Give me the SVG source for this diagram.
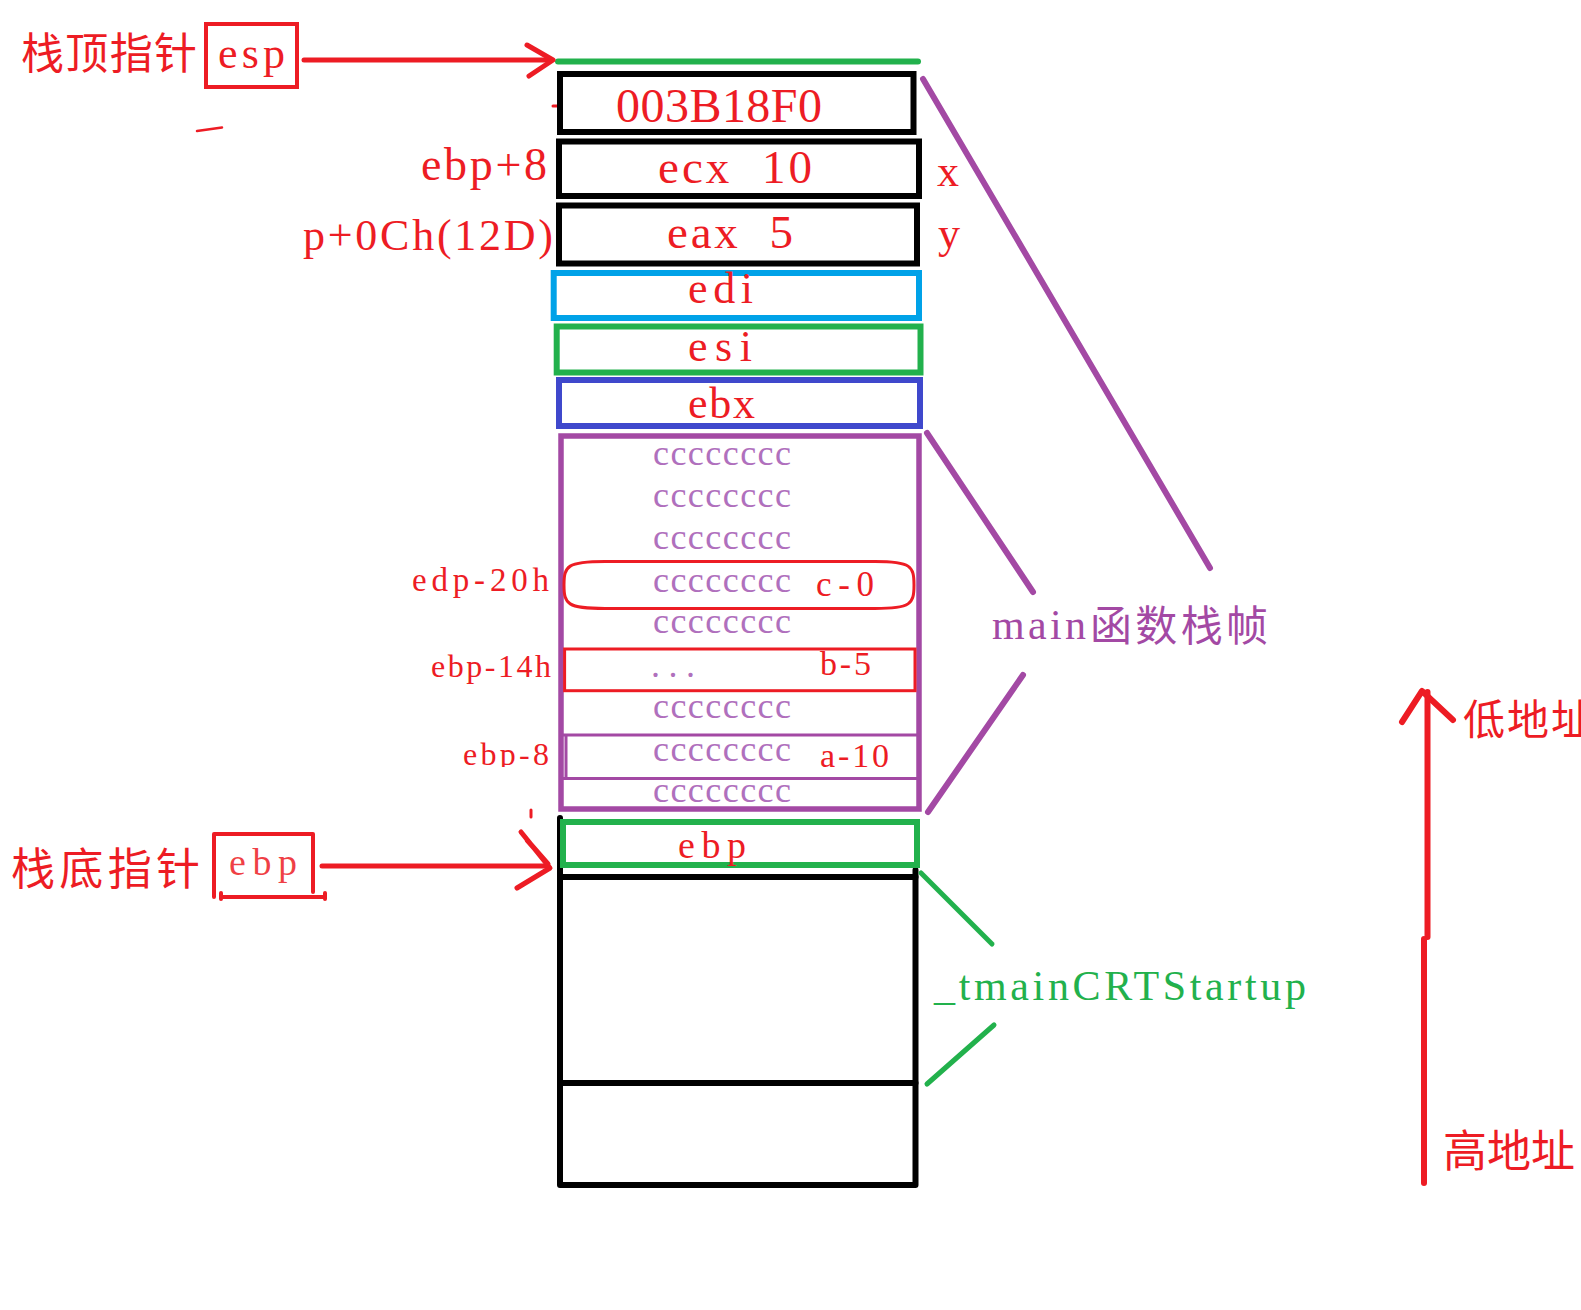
<svg xmlns="http://www.w3.org/2000/svg" width="1581" height="1310" viewBox="0 0 1581 1310">
<defs>
<style>
.r{fill:#ed1c24}
.t{font-family:"Liberation Serif","Noto Sans CJK SC",serif}
.cjk{font-family:"Noto Sans CJK SC","Liberation Serif",sans-serif}
.cc{fill:#b070bd;font-size:36px}
.box{fill:none}
.blk{stroke:#000}
.red{stroke:#ed1c24}
.grn{stroke:#22b14c}
.pur{stroke:#a349a4}
.cyn{stroke:#00a2e8}
.blu{stroke:#3f48cc}
.ln{fill:none;stroke-linecap:round;stroke-linejoin:round}
</style>
<clipPath id="clip8"><rect x="400" y="700" width="160" height="67"/></clipPath>
</defs>
<rect width="1581" height="1310" fill="#fff"/>

<g id="esp-pointer">
<text class="cjk r" x="21" y="69" font-size="43" textLength="176">栈顶指针</text>
<rect class="box red" x="206" y="24" width="91" height="63" stroke-width="4"/>
<text class="t r" x="218" y="68" font-size="44" textLength="67">esp</text>
</g>

<g id="ebp-pointer">
<text class="cjk r" x="11" y="885" font-size="44" textLength="189">栈底指针</text>
<path class="ln red" d="M214,897 V834 H313 V892" stroke-width="4" stroke-linecap="square"/>
<path class="ln red" d="M221,897 H325 M221,893 V899 M325,893 V899" stroke-width="4" stroke-linecap="butt"/>
<text class="t r" x="229" y="875" font-size="38" textLength="68" fill-opacity="0.85">ebp</text>
</g>

<g id="stack-top-line">
<path class="ln grn" d="M558,61.5 H918" stroke-width="6" stroke-linecap="butt"/>
</g>

<g id="cell-ret">
<path class="ln red" d="M553,106 H560" stroke-width="3"/>
<rect class="box blk" x="560" y="74" width="353.5" height="58" stroke-width="6"/>
<text class="t r" x="616" y="122" font-size="48" textLength="206">003B18F0</text>
</g>

<g id="cell-x">
<rect class="box blk" x="559" y="141.5" width="360" height="54.5" stroke-width="6"/>
<text class="t r" x="658" y="183" font-size="47" textLength="154" xml:space="preserve">ecx  10</text>
<text class="t r" x="421" y="180" font-size="46" textLength="126">ebp+8</text>
<text class="t r" x="937" y="186" font-size="44">x</text>
</g>

<g id="cell-y">
<rect class="box blk" x="559" y="205.5" width="358" height="58" stroke-width="6"/>
<text class="t r" x="667" y="248" font-size="47" textLength="126" xml:space="preserve">eax  5</text>
<text class="t r" x="303" y="250" font-size="44" textLength="250">p+0Ch(12D)</text>
<text class="t r" x="938" y="248" font-size="44">y</text>
</g>

<g id="cell-edi">
<rect class="box cyn" x="553.7" y="273" width="365.3" height="45" stroke-width="6"/>
<text class="t r" x="688" y="303" font-size="44" textLength="65">edi</text>
</g>

<g id="cell-esi">
<rect class="box grn" x="556.7" y="326.5" width="363.8" height="46" stroke-width="6"/>
<text class="t r" x="688" y="361" font-size="44" textLength="64">esi</text>
</g>

<g id="cell-ebx">
<rect class="box blu" x="559" y="380" width="361" height="46" stroke-width="6"/>
<text class="t r" x="688" y="418" font-size="44" textLength="67">ebx</text>
</g>

<g id="main-frame">
<rect class="box pur" x="561" y="436" width="358" height="373" stroke-width="5.5"/>
<path class="ln pur" d="M562,735 H918 M562,778.5 H918 M566,735 V778.5" stroke-width="3" stroke-linecap="butt"/>
<g class="t cc">
<text x="653" y="465" textLength="138">cccccccc</text>
<text x="653" y="507" textLength="138">cccccccc</text>
<text x="653" y="549" textLength="138">cccccccc</text>
<text x="653" y="592" textLength="138">cccccccc</text>
<text x="653" y="633" textLength="138">cccccccc</text>
<text x="651" y="677" textLength="44">...</text>
<text x="653" y="718" textLength="138">cccccccc</text>
<text x="653" y="761" textLength="138">cccccccc</text>
<text x="653" y="802" textLength="138">cccccccc</text>
</g>
</g>

<g id="var-c">
<path class="ln red" d="M605,561.5 H875 C911,561.5 914,566 914,585 C914,604 911,608.5 875,608.5 H605 C567,608.5 564,604 564,585 C564,566 567,561.5 605,561.5 Z" stroke-width="3"/>
<text class="t r" x="816" y="596" font-size="35" textLength="58">c-0</text>
<text class="t r" x="412" y="591" font-size="33" textLength="137">edp-20h</text>
</g>

<g id="var-b">
<rect class="box red" x="564.6" y="649" width="350.4" height="41.7" stroke-width="3"/>
<text class="t r" x="820" y="675" font-size="34" textLength="51">b-5</text>
<text class="t r" x="431" y="677" font-size="32" textLength="120">ebp-14h</text>
</g>

<g id="var-a">
<text class="t r" x="820" y="767" font-size="34" textLength="69">a-10</text>
<text class="t r" x="463" y="765" font-size="32" textLength="86" clip-path="url(#clip8)">ebp-8</text>
</g>

<g id="cell-ebp">
<path class="ln blk" d="M560,818 V1185 H915.5 V870" stroke-width="6" stroke-linecap="butt"/>
<path class="ln blk" d="M560,877 H915.5 M560,1083 H915.5" stroke-width="6" stroke-linecap="butt"/>
<rect class="box grn" x="563" y="822" width="354" height="43" stroke-width="6"/>
<text class="t r" x="678" y="858" font-size="38" textLength="68">ebp</text>
</g>

<g id="label-main">
<text class="t" fill="#a349a4" x="992" y="639" font-size="42" textLength="94">main</text>
<text class="cjk" fill="#a349a4" x="1090" y="641" font-size="42" textLength="178">函数栈帧</text>
</g>

<g id="label-crt">
<text class="t" fill="#22b14c" x="934" y="1000" font-size="42" textLength="372">_tmainCRTStartup</text>
</g>

<g id="address-axis">
<text class="cjk r" x="1463" y="735" font-size="42" letter-spacing="2">低地址</text>
<text class="cjk r" x="1443" y="1167" font-size="44">高地址</text>
</g>

<g id="connectors">
<path class="ln red" d="M304,60 H550" stroke-width="5"/>
<path class="ln red" d="M527,45 L553,60 L529,76" stroke-width="5"/>
<path class="ln red" d="M322,866 H547" stroke-width="5"/>
<path class="ln red" d="M521,832 L550,868 L517,888 M527,840 L548,864" stroke-width="5"/>
<path class="ln red" d="M531,810 V817" stroke-width="3"/>
<path class="ln red" d="M197,131 L222,127.5" stroke-width="2.5"/>
<path class="ln pur" d="M923,79 L1210,568" stroke-width="6"/>
<path class="ln pur" d="M927,433 L1033,592" stroke-width="6"/>
<path class="ln pur" d="M1023,675 L928,812" stroke-width="6"/>
<path class="ln grn" d="M921,873 L992,944" stroke-width="5"/>
<path class="ln grn" d="M994,1025 L927,1084" stroke-width="5"/>
<path class="ln red" d="M1427.5,692 V937" stroke-width="6" stroke-linecap="butt"/>
<path class="ln red" d="M1424,939 V1183" stroke-width="6" stroke-linecap="butt"/>
<path class="ln red" d="M1402,722 L1422,691 L1453,720" stroke-width="6"/>
</g>
</svg>
